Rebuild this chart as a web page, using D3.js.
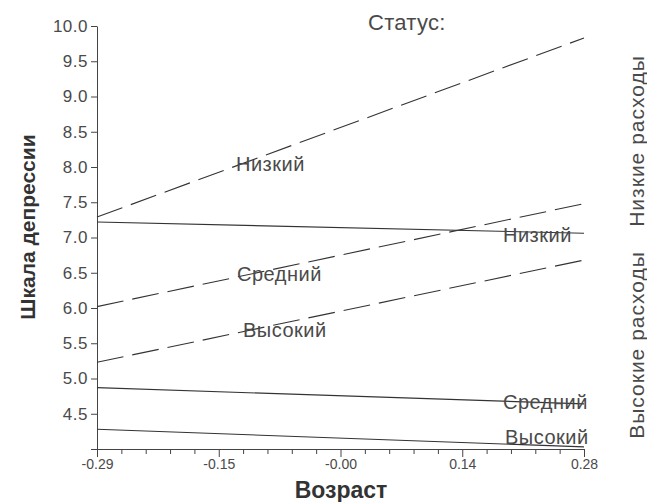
<!DOCTYPE html>
<html>
<head>
<meta charset="utf-8">
<script src="https://cdn.jsdelivr.net/npm/d3@7"></script>
<style>
  html, body { margin: 0; padding: 0; background: #fff; }
  svg text { font-family: "Liberation Sans", Arial, sans-serif; }
</style>
</head>
<body>
<svg id="chart" width="647" height="502"></svg>
<script>
// Age range on the x axis and depression scale on the y axis
const xDomain = [-0.29, 0.28];
const yDomain = [4.0, 10.0];
const xTickLabels = ["-0.29", "-0.15", "-0.00", "0.14", "0.28"];
const yTickValues = [4.0, 4.5, 5.0, 5.5, 6.0, 6.5, 7.0, 7.5, 8.0, 8.5, 9.0, 9.5, 10.0];

// Status levels
const statusLevels = ["Низкий", "Средний", "Высокий"];

// Predicted depression at the lowest and highest age, low-expense group (dashed)
const lowExpStart = [7.29, 6.02, 5.23];
const lowExpEnd   = [9.83, 7.48, 6.68];

// Predicted depression at the lowest and highest age, high-expense group (solid)
const highExpStart = [7.22, 4.87, 4.28];
const highExpEnd   = [7.06, 4.64, 4.03];

const groupNames = ["Низкие расходы", "Высокие расходы"];

const svg = d3.select("#chart");
const margin = { left: 97, right: 63, top: 26, bottom: 53 };
const W = 647, H = 502;

const x = d3.scaleLinear().domain(xDomain).range([margin.left, W - margin.right]);
const y = d3.scaleLinear().domain(yDomain).range([H - margin.bottom, margin.top]);

const axisColor = "#444";
const textColor = "#4a4a4a";

// X axis: 20 intervals, labelled every fifth
const nIntervals = 20;
const xTicks = d3.range(nIntervals + 1).map(i => xDomain[0] + (xDomain[1] - xDomain[0]) * i / nIntervals);
const xAxis = d3.axisBottom(x)
  .tickValues(xTicks)
  .tickSize(5)
  .tickSizeOuter(0)
  .tickFormat((d, i) => (i % 5 === 0 ? xTickLabels[i / 5] : ""));
const gx = svg.append("g")
  .attr("transform", `translate(0,${y(yDomain[0])})`)
  .call(xAxis);
gx.selectAll(".tick line")
  .attr("y2", (d, i) => (i % 5 === 0 ? 8 : 5));
gx.selectAll(".tick text")
  .attr("y", 10)
  .attr("dy", "0.71em")
  .style("font-size", "14px")
  .attr("fill", textColor);

// Y axis
const yAxis = d3.axisLeft(y)
  .tickValues(yTickValues)
  .tickSize(6)
  .tickSizeOuter(0)
  .tickFormat(d => (d === 4.0 ? "" : d3.format(".1f")(d)));
const gy = svg.append("g")
  .attr("transform", `translate(${x(xDomain[0])},0)`)
  .call(yAxis);
gy.selectAll(".tick text")
  .attr("x", -9)
  .style("font-size", "17px")
  .style("letter-spacing", "0.5px")
  .attr("fill", textColor);

svg.selectAll(".domain").attr("stroke", axisColor);
svg.selectAll(".tick line").attr("stroke", axisColor);

// Lines
const lineColor = "#333";
const lowLines = statusLevels.map((s, i) => ({ s, a: lowExpStart[i], b: lowExpEnd[i] }));
const highLines = statusLevels.map((s, i) => ({ s, a: highExpStart[i], b: highExpEnd[i] }));

svg.append("g").selectAll("line").data(lowLines).join("line")
  .attr("x1", x(xDomain[0])).attr("x2", x(xDomain[1]))
  .attr("y1", d => y(d.a)).attr("y2", d => y(d.b))
  .attr("stroke", lineColor).attr("stroke-width", 1.1)
  .attr("stroke-dasharray", "27,9");

svg.append("g").selectAll("line").data(highLines).join("line")
  .attr("x1", x(xDomain[0])).attr("x2", x(xDomain[1]))
  .attr("y1", d => y(d.a)).attr("y2", d => y(d.b))
  .attr("stroke", lineColor).attr("stroke-width", 1.1);

// Line labels
const labelSize = "20px";
const lowLabelPos = [[236, 171], [237, 281], [243, 337]];
const highLabelPos = [[503, 242], [503, 409], [505, 444]];
svg.append("g").selectAll("text").data(statusLevels).join("text")
  .attr("x", (d, i) => lowLabelPos[i][0]).attr("y", (d, i) => lowLabelPos[i][1])
  .style("font-size", labelSize).style("letter-spacing", "0.5px").attr("fill", textColor)
  .text(d => d);
svg.append("g").selectAll("text").data(statusLevels).join("text")
  .attr("x", (d, i) => highLabelPos[i][0]).attr("y", (d, i) => highLabelPos[i][1])
  .style("font-size", labelSize).style("letter-spacing", "0.5px").attr("fill", textColor)
  .text(d => d);

// Legend title
svg.append("text")
  .attr("x", 368).attr("y", 30)
  .style("font-size", "22px").style("letter-spacing", "0.3px").attr("fill", textColor)
  .text("Статус:");

// Group labels on the right
const groupCenters = [141, 345];
svg.append("g").selectAll("text").data(groupNames).join("text")
  .attr("transform", (d, i) => `translate(644,${groupCenters[i]}) rotate(-90)`)
  .attr("text-anchor", "middle")
  .style("font-size", "21px").style("letter-spacing", "1px").attr("fill", textColor)
  .text(d => d);

// Axis titles
svg.append("text")
  .attr("x", 341).attr("y", 498)
  .attr("text-anchor", "middle")
  .style("font-size", "23px")
  .style("font-weight", "bold").attr("fill", "#333")
  .text("Возраст");

svg.append("text")
  .attr("transform", "translate(35,227) rotate(-90)")
  .attr("text-anchor", "middle")
  .style("font-size", "21px")
  .style("font-weight", "bold").attr("fill", "#333")
  .text("Шкала депрессии");
</script>
</body>
</html>
